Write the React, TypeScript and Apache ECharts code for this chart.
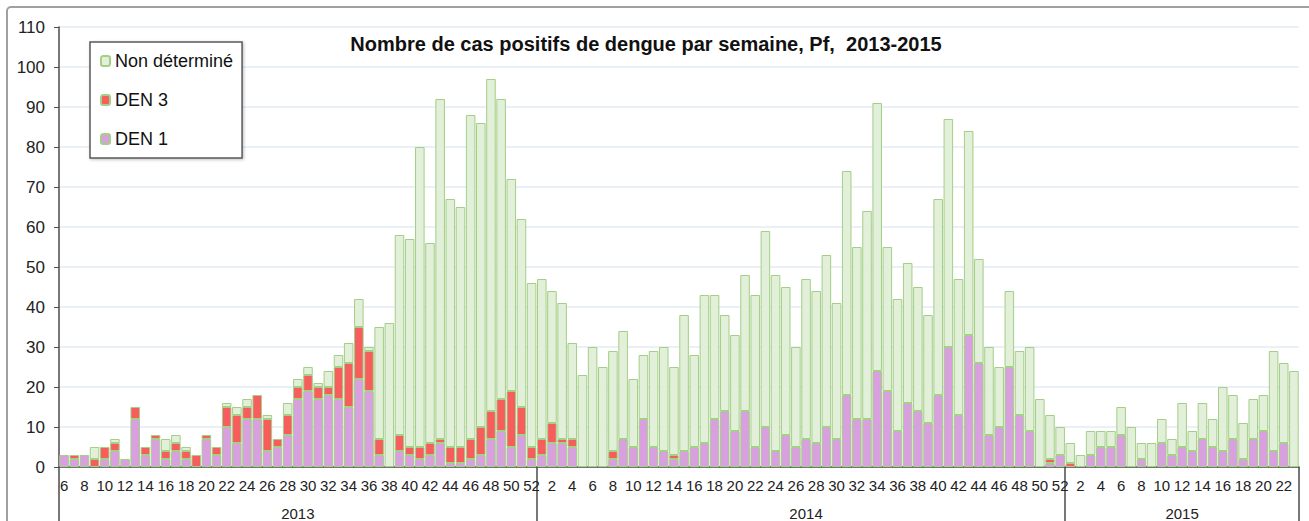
import React, { useEffect, useRef } from 'react';
import * as echarts from 'echarts';

const years = ['2013', '2014', '2015'];
const firstWeek = [6, 1, 1];
const lastWeek = [52, 52, 23];

const den1_2013 = [3, 2, 3, 0, 2, 4, 2, 12, 3, 7, 2, 4, 2, 0, 7, 3, 10, 6, 12, 12, 4, 5, 8, 17, 19, 17, 18, 17, 15, 22, 19, 3, 0, 4, 3, 2, 3, 6, 1, 1, 2, 3, 7, 9, 5, 8, 2];
const den3_2013 = [0, 1, 0, 2, 3, 2, 0, 3, 2, 1, 2, 2, 2, 3, 1, 2, 5, 7, 3, 6, 8, 2, 5, 3, 4, 3, 2, 8, 11, 13, 10, 4, 0, 4, 2, 3, 3, 1, 4, 4, 5, 7, 7, 8, 14, 7, 3];
const nd_2013 = [0, 0, 0, 3, 0, 1, 0, 0, 0, 0, 3, 2, 1, 0, 0, 0, 1, 2, 2, 0, 1, 0, 3, 2, 2, 1, 4, 3, 5, 7, 1, 28, 36, 50, 52, 75, 50, 85, 62, 60, 81, 76, 83, 75, 53, 47, 41];

const den1_2014 = [3, 6, 6, 5, 0, 0, 0, 2, 7, 5, 12, 5, 4, 2, 4, 5, 6, 12, 14, 9, 14, 5, 10, 4, 8, 5, 7, 6, 10, 7, 18, 12, 12, 24, 19, 9, 16, 14, 11, 18, 30, 13, 33, 26, 8, 10, 25, 13, 9, 0, 1, 3];
const den3_2014 = [4, 5, 1, 2, 0, 0, 0, 2, 0, 0, 0, 0, 0, 1, 0, 0, 0, 0, 0, 0, 0, 0, 0, 0, 0, 0, 0, 0, 0, 0, 0, 0, 0, 0, 0, 0, 0, 0, 0, 0, 0, 0, 0, 0, 0, 0, 0, 0, 0, 0, 1, 0];
const nd_2014 = [40, 33, 34, 24, 23, 30, 25, 25, 27, 17, 16, 24, 26, 22, 34, 23, 37, 31, 24, 24, 34, 38, 49, 44, 37, 25, 40, 38, 43, 34, 56, 43, 52, 67, 36, 33, 35, 31, 27, 49, 57, 34, 51, 26, 22, 15, 19, 16, 21, 17, 11, 7];

const den1_2015 = [0, 0, 3, 5, 5, 8, 0, 2, 0, 6, 3, 5, 4, 7, 5, 4, 7, 2, 7, 9, 4, 6, 0];
const den3_2015 = [1, 0, 0, 0, 0, 0, 0, 0, 0, 0, 0, 0, 0, 0, 0, 0, 0, 0, 0, 0, 0, 0, 0];
const nd_2015 = [5, 3, 6, 4, 4, 7, 10, 4, 6, 6, 4, 11, 5, 9, 7, 16, 11, 9, 10, 9, 25, 20, 24];

const yTicks = { min: 0, max: 110, interval: 10 };
const titleText = 'Nombre de cas positifs de dengue par semaine, Pf,  2013-2015';
const seriesNames = ['DEN 1', 'DEN 3', 'Non déterminé'];
const legendOrder = ['Non déterminé', 'DEN 3', 'DEN 1'];

const COLORS = {
  den1: '#d9a0df',
  den3: '#f75d5d',
  nd: '#e2efd9',
  border: '#a3cf86',
};

const FONT = '"Liberation Sans", Arial, sans-serif';

export default function App() {
  const ref = useRef<HTMLDivElement>(null);

  useEffect(() => {
    if (!ref.current) return;
    const chart = echarts.init(ref.current, undefined, { renderer: 'svg' });

    const weekCats: string[] = [];
    const yearCats: string[] = [];
    const boundaries: number[] = [];
    const midIdx: Record<number, string> = {};
    years.forEach((y, k) => {
      boundaries.push(weekCats.length);
      const start = weekCats.length;
      for (let w = firstWeek[k]; w <= lastWeek[k]; w++) {
        weekCats.push(String(w));
        yearCats.push(y);
      }
      const n = weekCats.length - start;
      midIdx[start + Math.floor(n / 2)] = y;
    });

    const den1 = [...den1_2013, ...den1_2014, ...den1_2015];
    const den3 = [...den3_2013, ...den3_2014, ...den3_2015];
    const nd = [...nd_2013, ...nd_2014, ...nd_2015];
    const clean = (a: number[]) => a.map((v) => (v === 0 ? null : v));

    const barCommon = {
      type: 'bar',
      stack: 'cases',
      barCategoryGap: '6%',
      xAxisIndex: 0,
      yAxisIndex: 0,
    };

    const option: any = {
      animation: false,
      backgroundColor: '#ffffff',
      textStyle: { fontFamily: FONT },
      grid: { left: 59, right: 10, top: 27, bottom: 54, containLabel: false },
      legend: {
        data: legendOrder,
        orient: 'vertical',
        left: 90,
        top: 42,
        itemWidth: 9,
        itemHeight: 10,
        itemGap: 21,
        padding: [10, 9, 10, 10],
        borderColor: '#5a5a5a',
        borderWidth: 1.5,
        backgroundColor: '#ffffff',
        shadowColor: 'rgba(0,0,0,0.25)',
        shadowBlur: 3,
        shadowOffsetX: 1,
        shadowOffsetY: 1,
        textStyle: { fontSize: 18, color: '#111', fontFamily: FONT },
      },
      graphic: [
        {
          type: 'rect',
          shape: { x: 7, y: 7, width: 1330, height: 560, r: 4 },
          style: { fill: 'none', stroke: '#a0a0a0', lineWidth: 2 },
          silent: true,
          z: 100,
        },
        {
          type: 'text',
          x: 646,
          y: 44,
          style: {
            text: titleText,
            fontSize: 20,
            fontWeight: 'bold',
            fontFamily: FONT,
            fill: '#111',
            align: 'center',
            verticalAlign: 'middle',
          },
          z: 100,
        },
      ],
      xAxis: [
        {
          type: 'category',
          data: weekCats,
          position: 'bottom',
          boundaryGap: true,
          axisLine: { show: true, lineStyle: { color: '#4a4a4a', width: 1.5 } },
          axisTick: {
            show: true,
            interval: (idx: number) => boundaries.indexOf(idx) >= 0,
            length: 60,
            lineStyle: { color: '#4a4a4a', width: 1.5 },
          },
          axisLabel: {
            interval: 1,
            margin: 11,
            fontSize: 15,
            color: '#222',
            fontFamily: FONT,
          },
          splitLine: { show: false },
        },
        {
          type: 'category',
          data: yearCats,
          position: 'bottom',
          boundaryGap: true,
          axisLine: { show: false },
          axisTick: { show: false },
          axisLabel: {
            interval: 0,
            margin: 39,
            fontSize: 15,
            color: '#222',
            fontFamily: FONT,
            formatter: (_v: string, idx: number) => midIdx[idx] || '',
          },
          splitLine: { show: false },
        },
      ],
      yAxis: {
        type: 'value',
        min: yTicks.min,
        max: yTicks.max,
        interval: yTicks.interval,
        axisLine: { show: true, lineStyle: { color: '#4a4a4a', width: 1.5 } },
        axisTick: { show: true, length: 5, lineStyle: { color: '#4a4a4a' } },
        axisLabel: { fontSize: 17, color: '#222', margin: 14 },
        splitLine: { show: true, lineStyle: { color: '#e3ebf6', width: 1.5 } },
      },
      series: [
        {
          ...barCommon,
          name: seriesNames[0],
          data: clean(den1),
          itemStyle: { color: COLORS.den1, borderColor: COLORS.border, borderWidth: 1 },
        },
        {
          ...barCommon,
          name: seriesNames[1],
          data: clean(den3),
          itemStyle: { color: COLORS.den3, borderColor: COLORS.border, borderWidth: 1 },
        },
        {
          ...barCommon,
          name: seriesNames[2],
          data: clean(nd),
          itemStyle: { color: COLORS.nd, borderColor: COLORS.border, borderWidth: 1 },
        },
      ],
    };

    chart.setOption(option);
    return () => chart.dispose();
  }, []);

  return (
    <div
      ref={ref}
      style={{ position: 'fixed', left: 0, top: 0, width: 1309, height: 521, background: '#fff' }}
    />
  );
}
